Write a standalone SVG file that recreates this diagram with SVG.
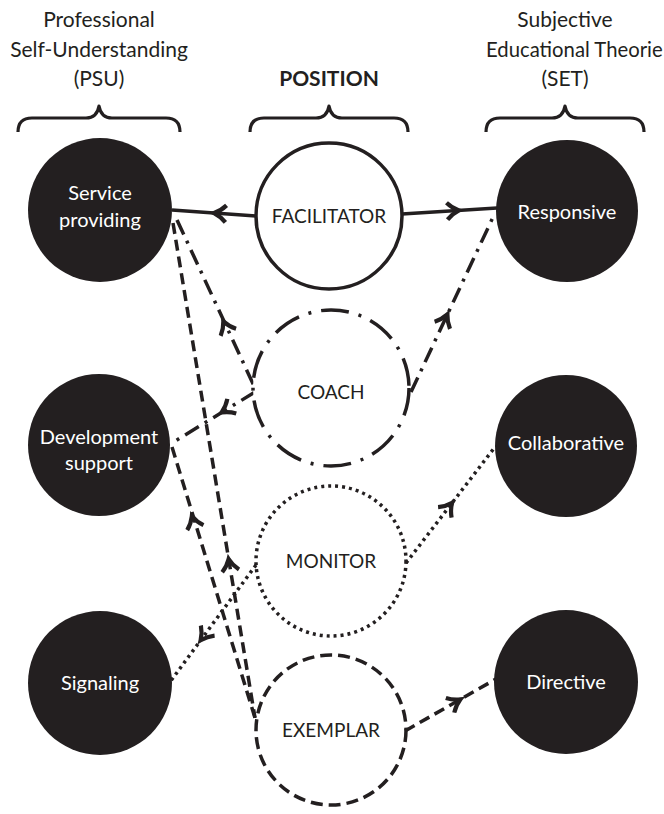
<svg xmlns="http://www.w3.org/2000/svg" xmlns:xlink="http://www.w3.org/1999/xlink" width="664" height="814" viewBox="0 0 664 814">
  <style>
    .hdr { font-family: Lato, "Open Sans", sans-serif; font-size: 21px; fill: #231f20; text-anchor: middle; }
    .hdrb { font-family: Lato, "Open Sans", sans-serif; font-size: 21px; font-weight: bold; fill: #231f20; text-anchor: middle; }
    .brace { fill: none; stroke: #231f20; stroke-width: 3.2; stroke-linejoin: round; }
    .dark { fill: #231f20; }
    .dark-t { font-family: Lato, "Open Sans", sans-serif; font-size: 20px; fill: #ffffff; text-anchor: middle; }
    .pos-t { font-family: Lato, "Open Sans", sans-serif; font-size: 19px; fill: #231f20; text-anchor: middle; }
    .ring { fill: #ffffff; stroke: #231f20; stroke-width: 3.5; }
    .solid { stroke: #231f20; stroke-width: 3.5; fill: none; }
    .dashdot { stroke: #231f20; stroke-width: 3.5; fill: none; stroke-dasharray: 16 7 3 7; }
    .dashed { stroke: #231f20; stroke-width: 3.5; fill: none; stroke-dasharray: 11 6; }
    .dotted { stroke: #231f20; stroke-width: 3.5; fill: none; stroke-dasharray: 3 4; }
    .ah { fill: none; stroke: #231f20; stroke-width: 4.2; stroke-linecap: butt; }
  </style>
  <defs>
    <!-- curved chevron arrowhead, points along +x -->
    <path id="ah" class="ah" d="M -8 -8.5 Q -3 -3 4 0 Q -3 3 -8 8.5"/>
  </defs>

  <!-- column headings -->
  <g id="heading-psu">
    <text class="hdr" x="99" y="27">Professional</text>
    <text class="hdr" x="99" y="57">Self-Understanding</text>
    <text class="hdr" x="99" y="86">(PSU)</text>
    <path class="brace" d="M 18 132 Q 18 118 32 118 L 86 118 Q 97 118 99 106 Q 101 118 112 118 L 166 118 Q 180 118 180 132"/>
  </g>
  <g id="heading-position">
    <text class="hdrb" x="329" y="86">POSITION</text>
    <path class="brace" d="M 250 132 Q 250 118 264 118 L 316 118 Q 327 118 329 106 Q 331 118 342 118 L 394 118 Q 408 118 408 132"/>
  </g>
  <g id="heading-set">
    <text class="hdr" x="565" y="27">Subjective</text>
    <text class="hdr" x="486" y="57" style="text-anchor:start; font-size:20.3px">Educational Theorie</text>
    <text class="hdr" x="565" y="86">(SET)</text>
    <path class="brace" d="M 486 132 Q 486 118 500 118 L 552 118 Q 563 118 565 106 Q 567 118 578 118 L 630 118 Q 644 118 644 132"/>
  </g>

  <!-- connectors -->
  <g id="connectors">
    <line class="solid" x1="256" y1="216" x2="172" y2="210"/>
    <line class="solid" x1="402" y1="214" x2="497" y2="208"/>
    <line class="dashdot" x1="177" y1="220" x2="255" y2="388"/>
    <line class="dashdot" x1="255" y1="392" x2="172" y2="443"/>
    <line class="dashdot" x1="411" y1="392" x2="495" y2="213"/>
    <line class="dashed" x1="173" y1="223" x2="255" y2="718"/>
    <line class="dashed" x1="172" y1="447" x2="255" y2="718"/>
    <line class="dotted" x1="256" y1="565" x2="170" y2="682"/>
    <line class="dotted" x1="406" y1="563" x2="495" y2="447"/>
    <line class="dashed" x1="405" y1="731" x2="496" y2="679"/>
    <use href="#ah" transform="translate(218 213.3) rotate(184)"/>
    <use href="#ah" transform="translate(455 210.7) rotate(-3.6)"/>
    <use href="#ah" transform="translate(225 325) rotate(-114.9)"/>
    <use href="#ah" transform="translate(225 410.4) rotate(148.4)"/>
    <use href="#ah" transform="translate(445.7 318) rotate(-64.9)"/>
    <use href="#ah" transform="translate(229.3 563) rotate(-99.4)"/>
    <use href="#ah" transform="translate(193 520) rotate(-107)"/>
    <use href="#ah" transform="translate(203 637) rotate(126.3)"/>
    <use href="#ah" transform="translate(449.7 506) rotate(-52.5)"/>
    <use href="#ah" transform="translate(457 701.3) rotate(-29.7)"/>
  </g>

  <!-- PSU nodes -->
  <g id="service-providing">
    <circle class="dark" cx="100" cy="210" r="72"/>
    <text class="dark-t" x="100" y="200">Service</text>
    <text class="dark-t" x="100" y="227">providing</text>
  </g>
  <g id="development-support">
    <circle class="dark" cx="99" cy="445" r="71"/>
    <text class="dark-t" x="99" y="444">Development</text>
    <text class="dark-t" x="99" y="470">support</text>
  </g>
  <g id="signaling">
    <circle class="dark" cx="100" cy="683" r="72"/>
    <text class="dark-t" x="100" y="690">Signaling</text>
  </g>

  <!-- position nodes -->
  <g id="facilitator">
    <circle class="ring" cx="329" cy="216" r="73"/>
    <text class="pos-t" x="329" y="223">FACILITATOR</text>
  </g>
  <g id="coach">
    <circle class="ring" cx="331" cy="388" r="78" style="stroke-dasharray: 28 10 3 10"/>
    <text class="pos-t" x="331" y="399">COACH</text>
  </g>
  <g id="monitor">
    <circle class="ring" cx="331" cy="561" r="75" style="stroke-dasharray: 3 4; fill: none"/>
    <text class="pos-t" x="331" y="568">MONITOR</text>
  </g>
  <g id="exemplar">
    <circle class="ring" cx="331" cy="730" r="75" style="stroke-dasharray: 12 6; fill: none"/>
    <text class="pos-t" x="331" y="737">EXEMPLAR</text>
  </g>

  <!-- SET nodes -->
  <g id="responsive">
    <circle class="dark" cx="567" cy="211" r="71"/>
    <text class="dark-t" x="567" y="219">Responsive</text>
  </g>
  <g id="collaborative">
    <circle class="dark" cx="566" cy="446" r="71"/>
    <text class="dark-t" x="566" y="450">Collaborative</text>
  </g>
  <g id="directive">
    <circle class="dark" cx="566" cy="682" r="72"/>
    <text class="dark-t" x="566" y="689">Directive</text>
  </g>
</svg>
